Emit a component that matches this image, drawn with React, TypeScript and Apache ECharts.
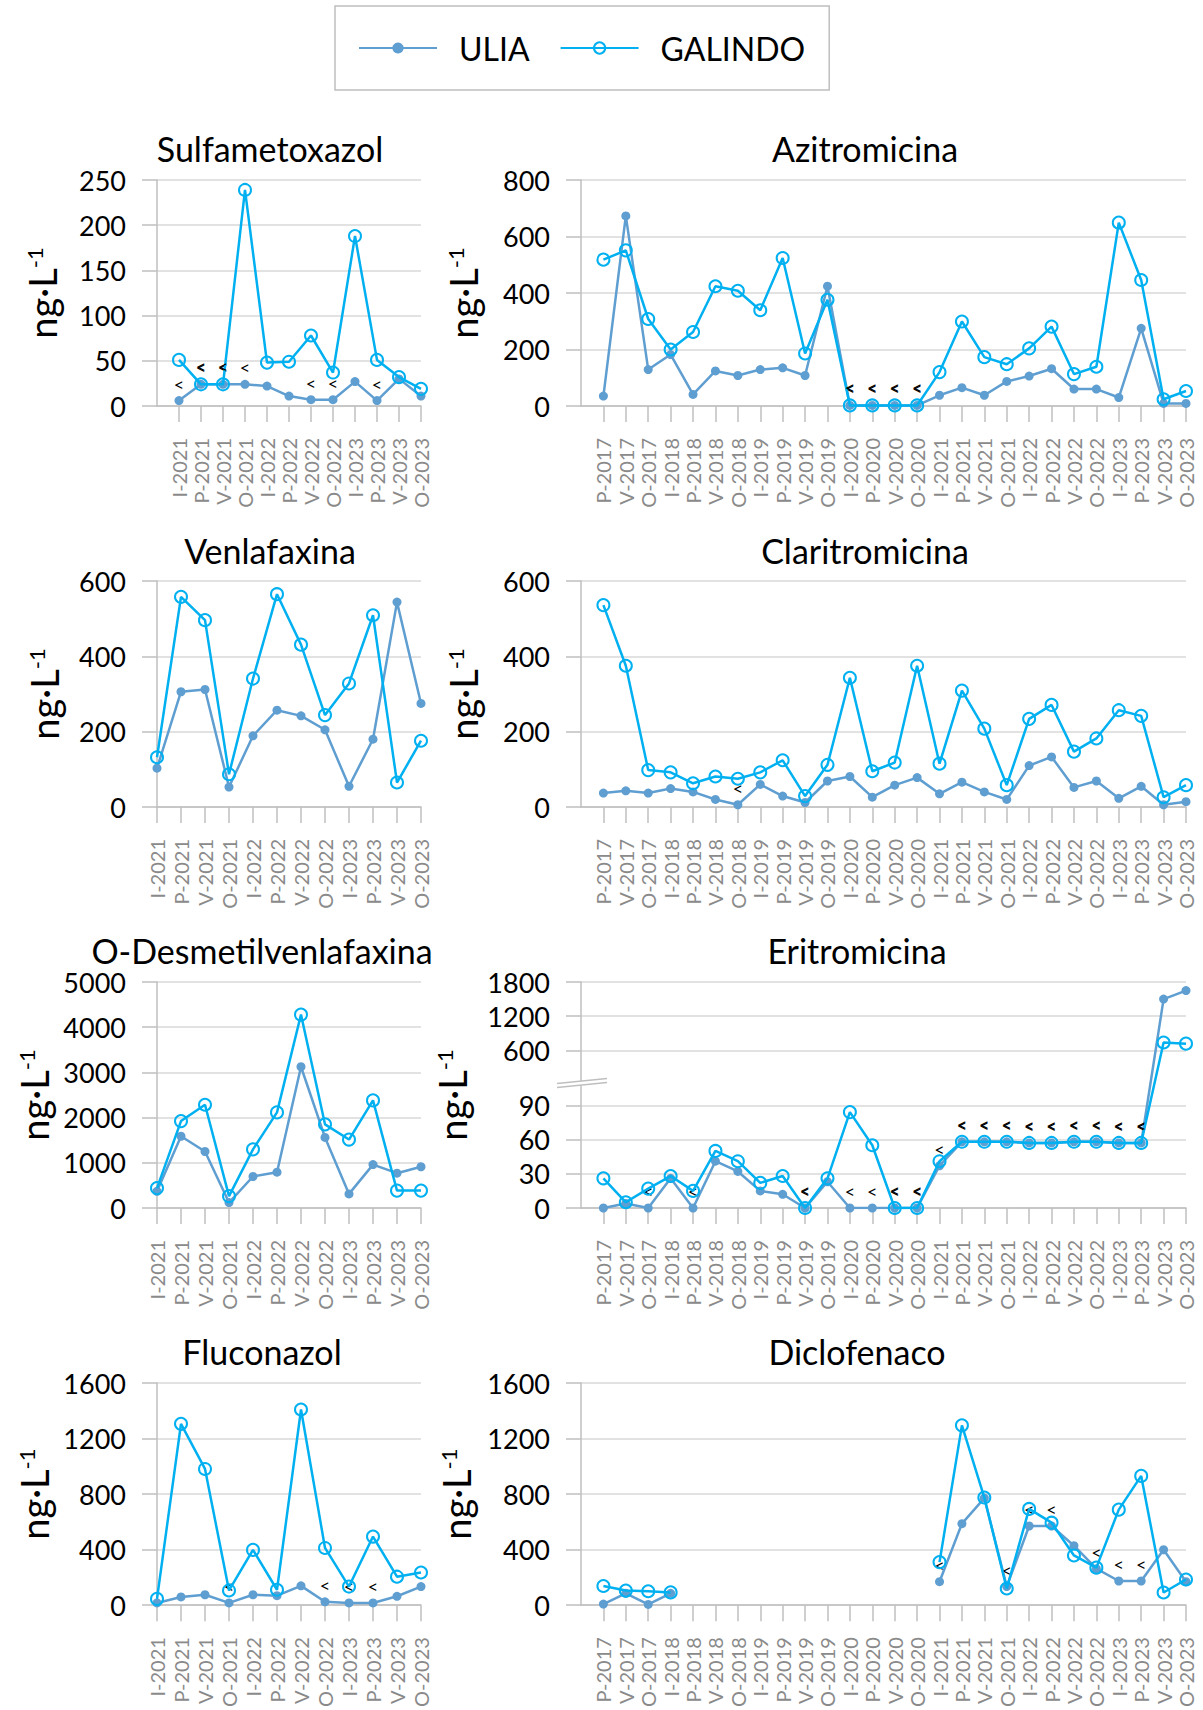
import React, { useEffect, useRef } from 'react';
import * as echarts from 'echarts';

const FONT = 'Lato, "Noto Sans", sans-serif';
const C_ULIA = '#5F9ED1';
const C_GAL = '#00B0F0';
const AXIS_GRAY = '#BFBFBF';
const GRID_GRAY = '#D9D9D9';
const LABEL_GRAY = '#8A8A8A';

// ---- categories ----
const CAT_SHORT = ['I-2021', 'P-2021', 'V-2021', 'O-2021', 'I-2022', 'P-2022', 'V-2022', 'O-2022', 'I-2023', 'P-2023', 'V-2023', 'O-2023'];
const CAT_LONG = ['P-2017', 'V-2017', 'O-2017', 'I-2018', 'P-2018', 'V-2018', 'O-2018', 'I-2019', 'P-2019', 'V-2019', 'O-2019', 'I-2020', 'P-2020', 'V-2020', 'O-2020', ...CAT_SHORT];

// ---- data (ng·L-1) ; *Lt = indices flagged "<" ----
const sulfaUlia = [6, 24, 24, 24, 22, 11, 7, 7, 27, 6, 30, 11];
const sulfaGal = [51, 24, 24, 239, 48, 49, 78, 37, 188, 51, 32, 19];
const sulfaUliaLt = [0, 1, 2, 3, 6, 7, 9];
const sulfaGalLt = [1, 2];

const azUlia = [35, 673, 129, 182, 41, 124, 108, 129, 135, 108, 424, 2, 2, 2, 2, 38, 65, 38, 87, 106, 132, 60, 60, 30, 275, 9, 9];
const azGal = [518, 551, 308, 200, 262, 424, 408, 339, 524, 186, 376, 2, 2, 2, 2, 120, 299, 173, 148, 204, 281, 113, 139, 649, 446, 24, 53];
const azUliaLt = [11, 12, 13, 14];
const azGalLt = [11, 12, 13, 14];

const venUlia = [103, 306, 312, 53, 189, 257, 242, 205, 55, 180, 544, 275];
const venGal = [132, 558, 496, 87, 341, 565, 431, 244, 328, 509, 65, 176];

const clarUlia = [37, 43, 37, 49, 40, 20, 6, 60, 29, 12, 69, 81, 26, 58, 78, 35, 66, 40, 20, 110, 133, 52, 69, 23, 55, 6, 14];
const clarGal = [536, 375, 98, 92, 63, 81, 75, 92, 124, 29, 112, 343, 95, 118, 375, 115, 309, 208, 58, 234, 271, 147, 182, 257, 242, 26, 58];
const clarUliaLt = [6];

const odvUlia = [370, 1587, 1250, 120, 697, 793, 3125, 1562, 312, 960, 770, 913];
const odvGal = [440, 1923, 2284, 264, 1298, 2115, 4279, 1851, 1514, 2380, 385, 385];

const eritUlia = [0, 4, 0, 26, 0, 41, 32, 15, 12, 0, 23, 0, 0, 0, 0, 37, 58, 58, 58, 57, 57, 58, 58, 57, 57, 1500, 1650];
const eritGal = [26, 5, 17, 28, 15, 50, 41, 22, 28, 0, 26, 84, 55, 0, 0, 41, 58, 58, 58, 57, 57, 58, 58, 57, 57, 740, 720];
const eritUliaLt = [2, 4, 9, 11, 12, 13, 14, 15, 16, 17, 18, 19, 20, 21, 22, 23, 24];
const eritGalLt = [9, 13, 14, 16, 17, 18, 19, 20, 21, 22, 23, 24];
const ERIT_TICKS = [0, 30, 60, 90, 600, 1200, 1800];

const flucUlia = [16, 59, 75, 16, 75, 68, 139, 24, 16, 16, 64, 134];
const flucGal = [45, 1306, 981, 106, 398, 111, 1409, 412, 134, 494, 205, 235];
const flucUliaLt = [3, 7, 8, 9];

const N = null;
const dicUlia = [8, 85, 5, 85, N, N, N, N, N, N, N, N, N, N, N, 169, 587, 771, 134, 570, 570, 428, 263, 174, 174, 399, 169];
const dicGal = [138, 105, 100, 92, N, N, N, N, N, N, N, N, N, N, N, 310, 1295, 775, 120, 693, 594, 358, 270, 688, 931, 91, 185];
const dicUliaLt = [15, 18, 19, 20, 22, 23, 24];
const dicGalLt: number[] = [];

// broken-axis mapping for Eritromicina (lower 0-90 linear, upper 600-1800 compressed)
const eritScale = (v: number) => (v <= 90 ? v : 138 + (v - 600) / 20);
const eritInverse = (u: number) => (u <= 90 ? u : 600 + (u - 138) * 20);

type Panel = {
  title: string; cats: string[]; lead: boolean; col: number; row: number;
  ulia: (number | null)[]; gal: (number | null)[]; uliaLt: number[]; galLt: number[];
  max: number; interval: number; nameGap: number; titleX: number; broken?: boolean;
};

const PANELS: Panel[] = [
  { title: 'Sulfametoxazol', cats: CAT_SHORT, lead: true, col: 0, row: 0, ulia: sulfaUlia, gal: sulfaGal, uliaLt: sulfaUliaLt, galLt: sulfaGalLt, max: 250, interval: 50, nameGap: 96, titleX: 270 },
  { title: 'Azitromicina', cats: CAT_LONG, lead: true, col: 1, row: 0, ulia: azUlia, gal: azGal, uliaLt: azUliaLt, galLt: azGalLt, max: 800, interval: 200, nameGap: 99, titleX: 865 },
  { title: 'Venlafaxina', cats: CAT_SHORT, lead: false, col: 0, row: 1, ulia: venUlia, gal: venGal, uliaLt: [], galLt: [], max: 600, interval: 200, nameGap: 94, titleX: 270 },
  { title: 'Claritromicina', cats: CAT_LONG, lead: true, col: 1, row: 1, ulia: clarUlia, gal: clarGal, uliaLt: clarUliaLt, galLt: [], max: 600, interval: 200, nameGap: 99, titleX: 865 },
  { title: 'O-Desmetilvenlafaxina', cats: CAT_SHORT, lead: false, col: 0, row: 2, ulia: odvUlia, gal: odvGal, uliaLt: [], galLt: [], max: 5000, interval: 1000, nameGap: 104, titleX: 262 },
  { title: 'Eritromicina', cats: CAT_LONG, lead: true, col: 1, row: 2, ulia: eritUlia, gal: eritGal, uliaLt: eritUliaLt, galLt: eritGalLt, max: 1800, interval: 600, nameGap: 110, titleX: 857, broken: true },
  { title: 'Fluconazol', cats: CAT_SHORT, lead: false, col: 0, row: 3, ulia: flucUlia, gal: flucGal, uliaLt: flucUliaLt, galLt: [], max: 1600, interval: 400, nameGap: 104, titleX: 262 },
  { title: 'Diclofenaco', cats: CAT_LONG, lead: true, col: 1, row: 3, ulia: dicUlia, gal: dicGal, uliaLt: dicUliaLt, galLt: dicGalLt, max: 1600, interval: 400, nameGap: 106, titleX: 857 },
];

// layout
const COL_LEFT = [157, 581];
const COL_WIDTH = [264, 605];
const ROW_TOP = [180, 581, 982, 1383];
const GRID_H = 226;
const TITLE_Y = [148, 550, 950, 1351];
const SYM_ULIA = 9;
const SYM_GAL = 12;
const LBL_GAP = 2;

function buildOption() {
  const grids: any[] = [];
  const xAxes: any[] = [];
  const yAxes: any[] = [];
  const series: any[] = [];
  const graphics: any[] = [];

  PANELS.forEach((p, k) => {
    grids.push({ left: COL_LEFT[p.col], width: COL_WIDTH[p.col], top: ROW_TOP[p.row], height: GRID_H });
    const cats = p.lead ? ['', ...p.cats] : p.cats;
    xAxes.push({
      type: 'category', gridIndex: k, data: cats, boundaryGap: false,
      axisLine: { show: true, lineStyle: { color: AXIS_GRAY, width: 1.5 } },
      axisTick: { show: true, length: 16, lineStyle: { color: AXIS_GRAY, width: 1.5 }, interval: p.lead ? (i: number) => i !== 0 : 0 },
      axisLabel: { rotate: 90, interval: 0, color: LABEL_GRAY, fontSize: 20, fontFamily: FONT, margin: 32 },
      splitLine: { show: false },
    });
    const yBase: any = {
      type: 'value', gridIndex: k, min: 0,
      name: '{a|ng·L}{b|-1}', nameLocation: 'middle', nameRotate: 90, nameGap: p.nameGap,
      nameTextStyle: {
        rich: {
          a: { fontSize: 38, fontFamily: FONT, color: '#000' },
          b: { fontSize: 22, fontFamily: FONT, color: '#000', verticalAlign: 'top' },
        },
      },
      axisLine: { show: true, lineStyle: { color: AXIS_GRAY, width: 1.5 } },
      axisTick: { show: true, length: 15, lineStyle: { color: AXIS_GRAY, width: 1.5 } },
      axisLabel: { color: '#000', fontSize: 27, fontFamily: FONT, margin: 31, formatter: (v: number) => String(v) },
      splitLine: { show: true, lineStyle: { color: GRID_GRAY, width: 1.5 } },
    };
    if (p.broken) {
      const tv = ERIT_TICKS.map(eritScale);
      yBase.max = eritScale(p.max);
      yBase.axisLabel = { ...yBase.axisLabel, customValues: tv, formatter: (u: number) => String(Math.round(eritInverse(u))) };
      yBase.axisTick = { ...yBase.axisTick, customValues: tv };
    } else {
      yBase.max = p.max;
      yBase.interval = p.interval;
    }
    yAxes.push(yBase);

    const tf = p.broken ? eritScale : (v: number) => v;
    const mk = (vals: (number | null)[], lt: number[]) => {
      const d = vals.map((v, i) => (v == null ? null : lt.includes(i) ? { value: tf(v), label: { show: true } } : tf(v)));
      return p.lead ? [null, ...d] : d;
    };
    const lbl = (sym: number) => ({
      show: false, position: 'top', distance: LBL_GAP + (SYM_GAL - sym) / 2, formatter: '<',
      color: '#000', fontSize: 18, fontFamily: FONT,
    });
    series.push({
      name: 'ULIA', type: 'line', xAxisIndex: k, yAxisIndex: k, data: mk(p.ulia, p.uliaLt),
      symbol: 'circle', symbolSize: SYM_ULIA, showAllSymbol: true,
      lineStyle: { color: C_ULIA, width: 2.5 }, itemStyle: { color: C_ULIA },
      label: lbl(SYM_ULIA), emphasis: { disabled: true }, z: 2,
    });
    series.push({
      name: 'GALINDO', type: 'line', xAxisIndex: k, yAxisIndex: k, data: mk(p.gal, p.galLt),
      symbol: 'circle', symbolSize: SYM_GAL, showAllSymbol: true,
      lineStyle: { color: C_GAL, width: 2.5 },
      itemStyle: { color: 'rgba(255,255,255,0)', borderColor: C_GAL, borderWidth: 2 },
      label: lbl(SYM_GAL), emphasis: { disabled: true }, z: 3,
    });

    graphics.push({
      type: 'text', x: p.titleX, y: TITLE_Y[p.row], silent: true,
      style: { text: p.title, fontSize: 34, fontFamily: FONT, fill: '#000', textAlign: 'center', textVerticalAlign: 'middle' },
    });
  });

  return {
    animation: false,
    backgroundColor: '#fff',
    legend: {
      data: ['ULIA', 'GALINDO'], left: 335, top: 6,
      itemWidth: 78, itemHeight: 14, itemGap: 30,
      padding: [26, 24, 26, 23],
      borderColor: AXIS_GRAY, borderWidth: 1.5,
      textStyle: { fontSize: 32, fontFamily: FONT, color: '#000', padding: [0, 0, 0, 17] },
      selectedMode: false,
    },
    grid: grids, xAxis: xAxes, yAxis: yAxes, series, graphic: graphics,
  };
}

export default function App() {
  const ref = useRef<HTMLDivElement>(null);
  useEffect(() => {
    document.body.style.margin = '0';
    if (!ref.current) return;
    const chart = echarts.init(ref.current, undefined, { renderer: 'svg' });
    const option: any = buildOption();
    chart.setOption(option);
    // broken-axis mark on Eritromicina y axis
    const ek = PANELS.findIndex((p) => p.broken);
    const pt = chart.convertToPixel({ gridIndex: ek } as any, [0, 110]) as number[];
    if (pt) {
      const x = pt[0];
      const y = pt[1];
      const brk = [
        { type: 'polygon', silent: true, z: 100, shape: { points: [[x - 24, y + 1], [x + 26, y - 4], [x + 26, y + 0], [x - 24, y + 5]] }, style: { fill: '#fff' } },
        { type: 'line', silent: true, z: 101, shape: { x1: x - 24, y1: y + 1, x2: x + 26, y2: y - 4 }, style: { stroke: AXIS_GRAY, lineWidth: 1.5 } },
        { type: 'line', silent: true, z: 101, shape: { x1: x - 24, y1: y + 5, x2: x + 26, y2: y + 0 }, style: { stroke: AXIS_GRAY, lineWidth: 1.5 } },
      ];
      chart.setOption({ graphic: [...option.graphic, ...brk] });
    }
    return () => chart.dispose();
  }, []);
  return <div ref={ref} style={{ width: 1203, height: 1710 }} />;
}
